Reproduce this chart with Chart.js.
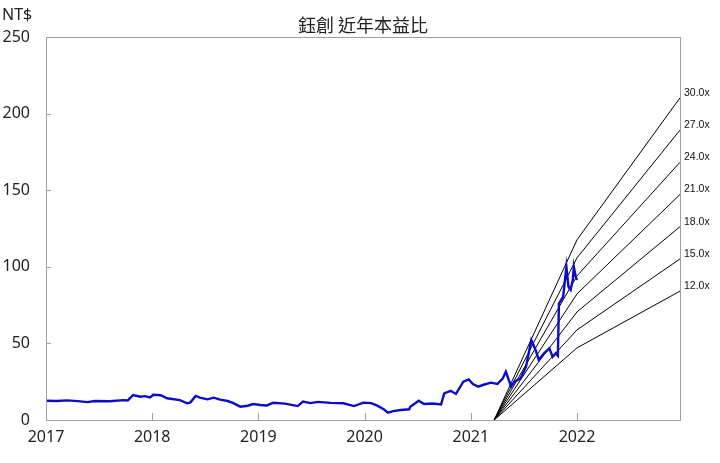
<!DOCTYPE html>
<html>
<head>
<meta charset="utf-8">
<script src="https://cdn.jsdelivr.net/npm/chart.js@4/dist/chart.umd.min.js"></script>
<style>
  html, body { margin: 0; padding: 0; background: #fff; }
  #wrap { width: 720px; height: 463px; }
</style>
</head>
<body>
<div id="wrap"><canvas id="peChart"></canvas></div>
<script>
// price (NT$), dates as decimal years
const priceDates = [
  2017.00, 2017.10, 2017.20, 2017.30, 2017.39, 2017.46, 2017.60, 2017.73, 2017.77, 2017.82,
  2017.89, 2017.93, 2017.98, 2018.01, 2018.08, 2018.14, 2018.26, 2018.33, 2018.36, 2018.41,
  2018.45, 2018.52, 2018.58, 2018.64, 2018.71, 2018.76, 2018.83, 2018.90, 2018.95, 2019.02,
  2019.08, 2019.14, 2019.25, 2019.37, 2019.42, 2019.49, 2019.56, 2019.68, 2019.80, 2019.90,
  2019.99, 2020.06, 2020.12, 2020.18, 2020.22, 2020.27, 2020.34, 2020.42, 2020.43, 2020.51,
  2020.56, 2020.64, 2020.72, 2020.75, 2020.81, 2020.86, 2020.93, 2020.98, 2021.02, 2021.07,
  2021.12, 2021.19, 2021.25, 2021.30, 2021.33, 2021.38, 2021.41, 2021.47, 2021.52, 2021.57,
  2021.61, 2021.64, 2021.69, 2021.74, 2021.77, 2021.80, 2021.82, 2021.83, 2021.87, 2021.90,
  2021.92, 2021.94, 2021.96, 2021.97, 2021.99, 2022.00
];
const priceValues = [
  12.6, 12.4, 12.8, 12.3, 11.7, 12.4, 12.2, 13.0, 12.8, 16.3,
  15.2, 15.6, 14.8, 16.5, 16.2, 14.2, 13.0, 10.9, 11.5, 15.7,
  14.6, 13.5, 14.6, 13.3, 12.4, 11.2, 8.7, 9.3, 10.4, 9.8,
  9.5, 11.3, 10.7, 9.1, 12.0, 11.0, 11.8, 11.2, 10.9, 9.1,
  11.3, 11.0, 9.4, 7.0, 4.8, 5.8, 6.5, 7.0, 8.7, 12.6,
  10.4, 10.8, 10.2, 17.4, 19.1, 17.0, 25.0, 26.5, 23.5, 21.8,
  23.0, 24.4, 23.5, 27.0, 31.5, 21.8, 25.0, 27.2, 34.8, 52.2,
  45.7, 39.2, 43.5, 46.8, 41.3, 43.5, 42.0, 76.0, 80.5, 100.0,
  87.0, 85.0, 91.4, 100.0, 93.0, 91.4
];

// trailing EPS used for the PE bands
const epsDates = [2021.22, 2022.00, 2022.97];
const epsValues = [0, 3.92, 7.01];
const bandMultiples = [30, 27, 24, 21, 18, 15, 12];

const yearTicks = [2017, 2018, 2019, 2020, 2021, 2022];
const chartTitle = '鈺創 近年本益比';
const unitLabel = 'NT$';

const numFont = '"Noto Sans", "DejaVu Sans", sans-serif';
const axisGray = '#a0a0a0';

const datasets = [{
  label: 'price',
  data: priceDates.map((d, i) => ({ x: d, y: priceValues[i] })),
  borderColor: '#0c0cc8',
  borderWidth: 2.4,
  pointRadius: 0,
  tension: 0
}];
bandMultiples.forEach(m => {
  datasets.push({
    label: m.toFixed(1) + 'x',
    data: epsDates.map((d, i) => ({ x: d, y: epsValues[i] * m })),
    borderColor: '#000',
    borderWidth: 1,
    pointRadius: 0,
    tension: 0
  });
});

// frame, inward ticks, title, unit label and band labels
const decorations = {
  id: 'decorations',
  afterDraw(chart) {
    const ctx = chart.ctx;
    const area = chart.chartArea;
    const xs = chart.scales.x, ys = chart.scales.y;
    ctx.save();
    ctx.strokeStyle = axisGray;
    ctx.lineWidth = 1;
    ctx.strokeRect(Math.round(area.left) + 0.5, Math.round(area.top) + 0.5,
      Math.round(area.right - area.left), Math.round(area.bottom - area.top));
    ctx.beginPath();
    yearTicks.forEach(t => {
      const px = Math.round(xs.getPixelForValue(t)) + 0.5;
      ctx.moveTo(px, area.bottom);
      ctx.lineTo(px, area.bottom - 7);
    });
    ys.ticks.forEach(t => {
      const py = Math.round(ys.getPixelForValue(t.value)) + 0.5;
      ctx.moveTo(area.left, py);
      ctx.lineTo(area.left + 5, py);
    });
    ctx.stroke();

    ctx.fillStyle = '#222';
    ctx.textBaseline = 'middle';
    ctx.textAlign = 'center';
    ctx.font = '18px "Noto Sans CJK TC", "Noto Sans CJK SC", sans-serif';
    ctx.fillText(chartTitle, (area.left + area.right) / 2, 25);

    ctx.textAlign = 'left';
    ctx.font = '16px ' + numFont;
    ctx.fillText(unitLabel, 2, 15);

    ctx.font = '10.5px "Liberation Sans", Arial, sans-serif';
    ctx.fillStyle = '#111';
    const lastDate = epsDates[epsDates.length - 1];
    const lastEps = epsValues[epsValues.length - 1];
    bandMultiples.forEach(m => {
      const py = ys.getPixelForValue(lastEps * m);
      ctx.fillText(m.toFixed(1) + 'x', xs.getPixelForValue(lastDate) + 4, py - 5);
    });
    ctx.restore();
  }
};

new Chart(document.getElementById('peChart'), {
  type: 'line',
  data: { datasets },
  options: {
    responsive: true,
    maintainAspectRatio: false,
    animation: false,
    layout: { padding: { left: 0, right: 40, top: 37, bottom: 0 } },
    plugins: {
      legend: { display: false },
      tooltip: { enabled: false },
      title: { display: false }
    },
    scales: {
      x: {
        type: 'linear',
        min: 2017,
        max: 2022.97,
        afterFit(scale) { scale.height = 43; },
        grid: { display: false, drawTicks: false },
        border: { display: false },
        ticks: {
          stepSize: 1,
          includeBounds: false,
          padding: 8,
          color: '#222',
          font: { family: numFont, size: 16 },
          maxRotation: 0,
          callback: v => String(v)
        }
      },
      y: {
        min: 0,
        max: 250,
        afterFit(scale) { scale.width = 46; },
        grid: { display: false, drawTicks: false },
        border: { display: false },
        ticks: {
          stepSize: 50,
          padding: 16,
          color: '#222',
          font: { family: numFont, size: 16 }
        }
      }
    }
  },
  plugins: [decorations]
});
</script>
</body>
</html>
